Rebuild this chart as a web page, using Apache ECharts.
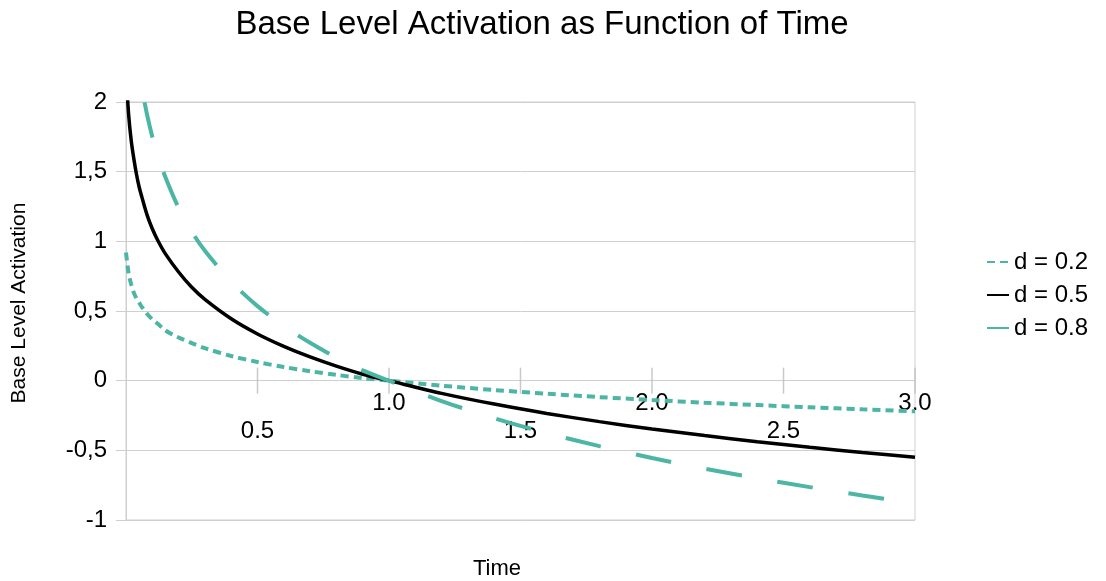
<!DOCTYPE html>
<html>
<head>
<meta charset="utf-8">
<script src="https://cdn.jsdelivr.net/npm/echarts@6/dist/echarts.min.js"></script>
<style>
  html, body { margin: 0; padding: 0; background: #fff; }
  #chart { width: 1106px; height: 581px; }
</style>
</head>
<body>
<div id="chart"></div>
<script>
// Sample times (x) and base level activation for each decay rate d
const times = [0, 0.01, 0.02, 0.03, 0.04, 0.05, 0.06, 0.08, 0.1, 0.12, 0.15, 0.2, 0.25, 0.3, 0.4, 0.5,
  0.6, 0.7, 0.8, 0.9, 1.0, 1.2, 1.4, 1.6, 1.8, 2.0, 2.2, 2.4, 2.6, 2.8, 3.0];
const d02 = [0.92, 0.77, 0.69, 0.63, 0.59, 0.56, 0.53, 0.48, 0.44, 0.41, 0.36, 0.31, 0.27, 0.233, 0.177, 0.134,
  0.098, 0.068, 0.042, 0.018, 0, -0.036, -0.067, -0.094, -0.118, -0.139, -0.158, -0.175, -0.191, -0.206, -0.220];
const d05 = [2.21, 1.91, 1.72, 1.59, 1.48, 1.39, 1.32, 1.19, 1.09, 1.01, 0.91, 0.78, 0.67, 0.583, 0.444, 0.335,
  0.246, 0.170, 0.104, 0.046, 0, -0.091, -0.168, -0.235, -0.294, -0.347, -0.394, -0.438, -0.478, -0.515, -0.549];
const d08 = [3.54, 3.05, 2.75, 2.54, 2.36, 2.22, 2.10, 1.91, 1.75, 1.62, 1.46, 1.24, 1.07, 0.932, 0.710, 0.535,
  0.393, 0.272, 0.166, 0.074, 0, -0.146, -0.269, -0.376, -0.470, -0.555, -0.631, -0.700, -0.764, -0.824, -0.879];
const seriesNames = ['d = 0.2', 'd = 0.5', 'd = 0.8'];
const xTickValues = [0.5, 1.0, 1.5, 2.0, 2.5, 3.0];
const xTicks = { min: 0, max: 3, step: 0.5 };
const yTicks = { min: -1, max: 2, step: 0.5 };

const FONT = 'Liberation Sans, Arial, sans-serif';
const TEAL = '#4cb5a4';
const GRID_GRAY = '#cfcfcf';
const TICK_GRAY = '#bdbdbd';

const GRID = { left: 126, right: 191, top: 102, bottom: 61 };
const CHART_H = 581;
// distance from the bottom of the plot up to the y = 0 line
const plotH = CHART_H - GRID.top - GRID.bottom;
const zeroLift = plotH * (0 - yTicks.min) / (yTicks.max - yTicks.min);

const pairs = (ys) => times.map((t, i) => [t, ys[i]]);

const chart = echarts.init(document.getElementById('chart'), null, { renderer: 'canvas' });

const lineSeries = (name, ys, color, width, type) => ({
  name, type: 'line', data: pairs(ys), symbol: 'none',
  smooth: 0.3, clip: true, z: 3,
  lineStyle: { color, width, type }, itemStyle: { color }
});

chart.setOption({
  animation: false,
  backgroundColor: '#ffffff',
  textStyle: { fontFamily: FONT },
  title: {
    text: 'Base Level Activation as Function of Time',
    left: 537, top: 3, textAlign: 'center',
    textStyle: { fontFamily: FONT, fontSize: 33, fontWeight: 'normal', color: '#000' }
  },
  graphic: [
    { type: 'text', x: 497, y: 569,
      style: { text: 'Time', font: '22px ' + FONT, fill: '#000',
        textAlign: 'center', textVerticalAlign: 'middle' } },
    { type: 'text', rotation: Math.PI / 2, x: 19, y: 303,
      style: { text: 'Base Level Activation', font: '21px ' + FONT, fill: '#000',
        textAlign: 'center', textVerticalAlign: 'middle' } }
  ],
  legend: {
    orient: 'vertical',
    left: 981, top: 245, padding: 5,
    itemWidth: 22, itemHeight: 14, itemGap: 9,
    itemStyle: { opacity: 0 },
    textStyle: { fontFamily: FONT, fontSize: 24, color: '#000', lineHeight: 23 },
    data: seriesNames
  },
  grid: {
    left: GRID.left, right: GRID.right, top: GRID.top, bottom: GRID.bottom,
    show: true, borderColor: GRID_GRAY, borderWidth: 1, containLabel: false
  },
  xAxis: {
    type: 'value', position: 'bottom',
    // the time axis runs along the zero line of the activation axis
    offset: -zeroLift,
    min: xTicks.min, max: xTicks.max, interval: xTicks.step,
    axisLine: { show: true, onZero: false, lineStyle: { color: GRID_GRAY, width: 1 } },
    axisTick: { show: false },
    splitLine: { show: false },
    axisLabel: {
      show: true, margin: 9, color: '#000', fontFamily: FONT, fontSize: 24, lineHeight: 28,
      showMaxLabel: true, showMinLabel: true,
      formatter: (v) => {
        if (v === 0) return '';
        const s = v.toFixed(1);
        return Math.round(v * 2) % 2 === 1 ? '\n' + s : s;
      }
    }
  },
  yAxis: {
    type: 'value',
    min: yTicks.min, max: yTicks.max, interval: yTicks.step,
    axisLine: { show: true, onZero: false, lineStyle: { color: GRID_GRAY, width: 1 } },
    axisTick: { show: true, length: 10, lineStyle: { color: GRID_GRAY } },
    splitLine: { show: true, lineStyle: { color: GRID_GRAY, width: 1 } },
    axisLabel: {
      margin: 19, color: '#000', fontFamily: FONT, fontSize: 24,
      formatter: (v) => String(v).replace('.', ',')
    }
  },
  series: [
    // tick marks crossing the zero line of the time axis
    {
      name: 'ticks', type: 'scatter', silent: true, z: 1,
      data: xTickValues.map((t) => [t, 0]),
      symbol: 'rect', symbolSize: [1.5, 26],
      itemStyle: { color: TICK_GRAY }
    },
    lineSeries(seriesNames[0], d02, TEAL, 4, [8, 5]),
    lineSeries(seriesNames[1], d05, '#000', 3.5, 'solid'),
    lineSeries(seriesNames[2], d08, TEAL, 4, [36, 36])
  ]
});
</script>
</body>
</html>
